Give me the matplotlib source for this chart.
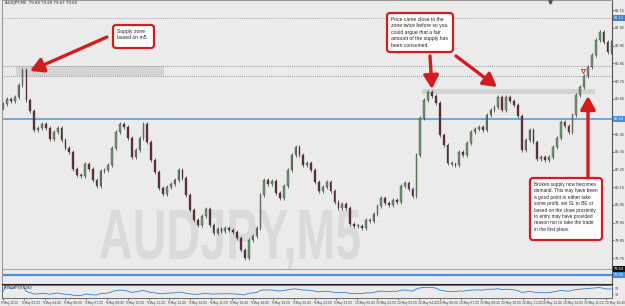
import numpy as np
import pandas as pd
import matplotlib
matplotlib.use("Agg")
from matplotlib import pyplot as plt
from matplotlib.patches import FancyBboxPatch, PathPatch, Rectangle
from matplotlib.textpath import TextPath
from matplotlib.font_manager import FontProperties
from matplotlib.transforms import Affine2D, ScaledTranslation, blended_transform_factory

# ---- data (15 min steps) ----
symbol = "AUDJPY,M5"
header = "AUDJPY,M5  79.68 79.69 79.67 79.69"

first_open = 80.600
closes = [
    80.620, 80.649, 80.637, 80.660, 80.728, 80.812, 80.643, 80.581, 80.473, 80.485,
    80.507, 80.485, 80.423, 80.462, 80.485, 80.417, 80.372, 80.349, 80.253, 80.219,
    80.214, 80.281, 80.253, 80.191, 80.157, 80.242, 80.247, 80.276, 80.372, 80.462,
    80.507, 80.490, 80.428, 80.321, 80.360, 80.428, 80.507, 80.406, 80.304, 80.236,
    80.146, 80.112, 80.151, 80.168, 80.191, 80.247, 80.202, 80.106, 80.021, 79.965,
    79.937, 79.988, 80.027, 79.937, 79.892, 79.914, 79.903, 79.920, 79.908, 79.897,
    79.863, 79.795, 79.750, 79.852, 79.875, 79.920, 80.106, 80.191, 80.168, 80.185,
    80.118, 80.089, 80.157, 80.247, 80.332, 80.377, 80.332, 80.276, 80.287, 80.247,
    80.180, 80.129, 80.151, 80.180, 80.129, 80.067, 80.033, 80.055, 80.033, 79.942,
    79.931, 79.931, 79.920, 79.965, 79.959, 79.999, 80.044, 80.089, 80.061, 80.050,
    80.078, 80.067, 80.157, 80.174, 80.140, 80.101, 80.332, 80.541, 80.643, 80.688,
    80.666, 80.626, 80.445, 80.389, 80.287, 80.281, 80.276, 80.349, 80.332, 80.400,
    80.462, 80.479, 80.490, 80.473, 80.558, 80.586, 80.603, 80.660, 80.586, 80.660,
    80.637, 80.615, 80.553, 80.360, 80.417, 80.473, 80.406, 80.310, 80.321, 80.304,
    80.321, 80.377, 80.428, 80.519, 80.496, 80.462, 80.558, 80.671, 80.716, 80.779,
    80.829, 80.897, 80.982, 81.027, 80.971, 80.914, 80.971,
]

# 80.55 is hidden behind the blue level label on the price scale
price_ticks = [79.75, 79.85, 79.95, 80.05, 80.15, 80.25, 80.35, 80.45,
               80.65, 80.75, 80.85, 80.95, 81.05, 81.15]
time_labels = [
    "9 May 2012", "9 May 03:20", "9 May 04:40", "9 May 06:00", "9 May 07:20",
    "9 May 08:40", "9 May 10:00", "9 May 11:20", "9 May 12:40", "9 May 14:00",
    "9 May 15:20", "9 May 16:40", "9 May 18:00", "9 May 19:20", "9 May 20:40",
    "9 May 22:00", "9 May 23:20", "10 May 00:40", "10 May 02:00", "10 May 03:20",
    "10 May 04:40", "10 May 06:00", "10 May 07:20", "10 May 08:40", "10 May 10:00",
    "10 May 11:20", "10 May 12:40", "10 May 14:00", "10 May 15:20", "10 May 16:40",
]
bars_per_label = 80 / 15

supply_zone = (80.779, 80.835)
supply_span = (3.3, 41.3)
retest_zone = (80.677, 80.705)
retest_span = (107.4, 151.8)
level_mid = 80.536
level_low_gray = 79.688
level_low_blue = 79.654
ask_level = 81.106

note1 = "Supply zone\nbased on m5."
note2 = ("Price came close to the\nzone twice before so you\ncould argue that a fair\n"
         "amount of the supply has\nbeen consumed.")
note3 = ("Broken supply now becomes\ndemand. This may have been\na good point to either take\n"
         "some profit, set SL to BE or\nbased on the close proximity\nto entry may have provided\n"
         "reason not to take the trade\nin the first place.")

# ---- derived series ----
closes = np.array(closes)
opens = np.concatenate([[first_open], closes[:-1]])
idx = np.arange(len(closes))
WICK = 0.012
highs = np.maximum(opens, closes) + WICK
lows = np.minimum(opens, closes) - WICK

s = pd.Series(closes)
d = s.diff().fillna(0)
up = d.clip(lower=0).ewm(alpha=1 / 14, adjust=False).mean()
dn = (-d.clip(upper=0)).ewm(alpha=1 / 14, adjust=False).mean()
rsi = (100 - 100 / (1 + up / dn)).fillna(50)

# ---- figure ----
W, H = 625, 306
bg = "#ebebeb"
red = "#d51c1c"
fig = plt.figure(figsize=(W / 100, H / 100), dpi=100, facecolor=bg)

def box(l, t, r, b):
    return [l / W, 1 - b / H, (r - l) / W, (b - t) / H]

ax = fig.add_axes(box(2, 0, 612, 284), facecolor=bg)
ax_rsi = fig.add_axes(box(2, 285, 612, 298), facecolor=bg)
ov = fig.add_axes([0, 0, 1, 1], facecolor="none", zorder=10)
ov.set_xlim(0, W)
ov.set_ylim(H, 0)
ov.axis("off")

xlim = (-0.256, 156.15)
ax.set_xlim(*xlim)
ax.set_ylim(79.6034, 81.208)

# watermark
fp = FontProperties(family="Liberation Sans", weight="bold")
tp = TextPath((0, 0), symbol, size=1, prop=fp)
ext = tp.get_extents()
wx0, wx1, wy0, wy1 = 100, 360, 210, 270
tr = Affine2D().translate(-ext.x0, -ext.y0).scale((wx1 - wx0) / ext.width,
                                                  -(wy1 - wy0) / ext.height).translate(wx0, wy1)
ax.add_patch(PathPatch(tr.transform_path(tp), fc="#dadada", ec="none",
                       transform=ov.transData, zorder=0))

# zones and levels
ax.add_patch(Rectangle((supply_span[0], supply_zone[0]), supply_span[1] - supply_span[0],
                       supply_zone[1] - supply_zone[0], fc="#d4d4d4", ec="none", zorder=1))
ax.add_patch(Rectangle((retest_span[0], retest_zone[0]), retest_span[1] - retest_span[0],
                       retest_zone[1] - retest_zone[0], fc="#d2d2d2", ec="none", zorder=1))
for lv in supply_zone:
    ax.axhline(lv, color="#777777", lw=0.6, ls=(0, (1, 1.5)), zorder=2)
ax.axhline(ask_level, color="#7a86c8", lw=0.6, ls=(0, (1, 1.5)), zorder=2)
ax.axhline(level_mid, color="#5b9bd5", lw=1.2, zorder=2)
ax.axhline(level_low_gray, color="#a8a8a8", lw=0.8, zorder=2)
ax.axhline(level_low_blue, color="#4a8fd8", lw=1.6, zorder=2)

# candles
bull = closes >= opens
ax.vlines(idx, lows, highs, color="#333333", lw=0.5, zorder=3)
body_h = np.maximum(np.abs(closes - opens), 0.003)
ax.bar(idx[bull], body_h[bull], bottom=np.minimum(opens, closes)[bull], width=0.42,
       color="#6f9c70", edgecolor="#333333", lw=0.25, zorder=4)
ax.bar(idx[~bull], body_h[~bull], bottom=np.minimum(opens, closes)[~bull], width=0.42,
       color="#6a2c3a", edgecolor="#333333", lw=0.25, zorder=4)

# price scale
ax.yaxis.tick_right()
ax.set_yticks(price_ticks)
ax.set_yticklabels([f"{p:.2f}" for p in price_ticks])
ax.tick_params(axis="y", labelsize=2.5, length=1.2, width=0.5, pad=0.8, colors="#333333")
ax.set_xticks([])
for side, c in (("left", "#9a9a9a"), ("right", "#555555"), ("bottom", "#222222"), ("top", "#9a9a9a")):
    ax.spines[side].set_color(c)
    ax.spines[side].set_linewidth(0.8)

yx = blended_transform_factory(ax.transAxes, ax.transData)
for lv, fc in ((ask_level, "#3f7fd6"), (level_mid, "#3f8fe0"),
               (level_low_gray, "#111111"), (level_low_blue, "#3f8fe0")):
    ax.text(1.003, lv, f"{lv:.2f}", transform=yx, fontsize=2.5, color="white", va="center",
            ha="left", bbox=dict(fc=fc, ec="none", pad=0.5), clip_on=False)

ax.text(0.005, 0.995, header, transform=ax.transAxes, fontsize=2.8, va="top", ha="left",
        color="#222222")

# RSI panel
ax_rsi.plot(idx, rsi, color="#2f7fd0", lw=0.6)
ax_rsi.set_xlim(*xlim)
ax_rsi.set_ylim(5, 95)
ax_rsi.yaxis.tick_right()
ax_rsi.set_yticks([70, 30])
ax_rsi.tick_params(axis="y", labelsize=2.3, length=1.0, width=0.4, pad=0.8, colors="#333333")
ax_rsi.set_xticks(np.arange(len(time_labels)) * bars_per_label)
ax_rsi.set_xticklabels(time_labels, ha="left")
ax_rsi.tick_params(axis="x", labelsize=2.1, length=1.2, width=0.4, pad=0.8, colors="#333333")
shift = ScaledTranslation(-1.5 / 100, 0, fig.dpi_scale_trans)
for lab in ax_rsi.get_xticklabels():
    lab.set_transform(lab.get_transform() + shift)
for side in ("left", "right", "bottom", "top"):
    ax_rsi.spines[side].set_color("#555555")
    ax_rsi.spines[side].set_linewidth(0.6)
ax_rsi.text(0.003, 0.95, f"RSI(14) {rsi.iloc[-1]:.4f}", transform=ax_rsi.transAxes,
            fontsize=2.4, va="top", ha="left", color="#222222")

# notes and arrows
def note(l, t, r, b, text, fs):
    ov.add_patch(FancyBboxPatch((l, t), r - l, b - t, boxstyle="round,pad=0,rounding_size=3",
                                fc="white", ec=red, lw=1.6))
    ov.text(l + 4, t + 4, text, fontsize=fs, va="top", ha="left", linespacing=1.35,
            color="#222222", family="Liberation Sans")

def arrow(tail, head):
    ov.annotate("", xy=head, xytext=tail,
                arrowprops=dict(arrowstyle="-|>,head_length=0.8,head_width=0.45", color=red,
                                lw=2.4, mutation_scale=10, shrinkA=0, shrinkB=0))

note(113, 25, 154, 48, note1, 3.6)
note(387, 13, 453, 52, note2, 3.6)
note(530, 178, 602, 240, note3, 3.4)
arrow((107, 37), (30, 71))
arrow((430, 56), (432, 89))
arrow((456, 56), (497, 87))
arrow((588, 178), (588, 96))
ov.plot(583, 71, marker="v", mfc="none", mec=red, ms=3, mew=0.6)
ov.plot(550, 1.5, marker="v", color="#555555", ms=2.5)

fig.savefig("out.png", dpi=100, facecolor=bg)
